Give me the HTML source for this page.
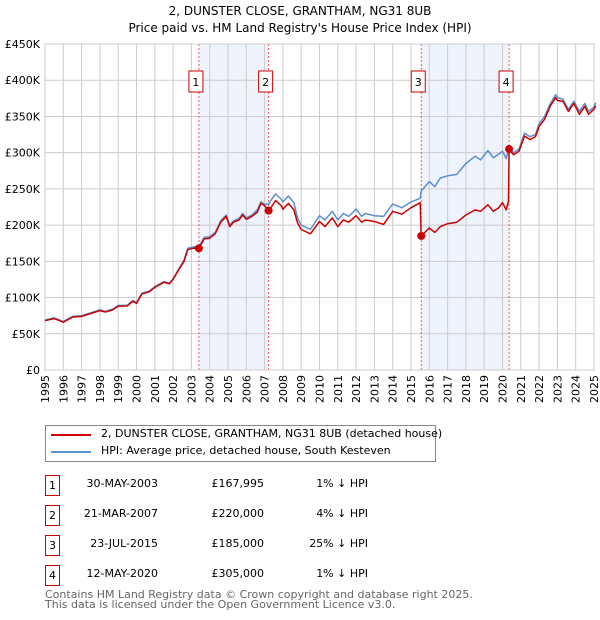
<!DOCTYPE html>
<html><head><meta charset="utf-8"><style>
body{margin:0;background:#fff;font-family:"DejaVu Sans","Liberation Sans",sans-serif;}
#wrap{position:relative;width:600px;height:620px;overflow:hidden;}
.t{position:absolute;font-size:11px;color:#000;white-space:nowrap;}
.box{position:absolute;width:13px;height:19px;border:1px solid #c00;font-size:11px;text-align:center;line-height:19px;}
</style></head><body><div id="wrap">
<div class="t" style="left:0;width:600px;text-align:center;top:4px;font-size:12px">2, DUNSTER CLOSE, GRANTHAM, NG31 8UB</div>
<div class="t" style="left:0;width:600px;text-align:center;top:21px;font-size:12px">Price paid vs. HM Land Registry's House Price Index (HPI)</div>
<svg id="chart" width="600" height="420" style="position:absolute;left:0;top:0"></svg>
<div style="position:absolute;left:45px;top:425px;width:389px;height:35px;border:1px solid #888;">
 <div><div style="position:absolute;left:5px;top:8px;width:40px;height:2px;background:#c00"></div><div class="t" style="left:55px;top:1px">2, DUNSTER CLOSE, GRANTHAM, NG31 8UB (detached house)</div></div>
 <div><div style="position:absolute;left:5px;top:25px;width:40px;height:2px;background:#5b8fd0"></div><div class="t" style="left:55px;top:18px">HPI: Average price, detached house, South Kesteven</div></div>
</div>
<div id="rows"></div>
<div class="t" style="left:45px;top:590px;color:#666;line-height:10px">Contains HM Land Registry data © Crown copyright and database right 2025.<br>This data is licensed under the Open Government Licence v3.0.</div>
</div>
<script>
const yearTicks=[1995,1996,1997,1998,1999,2000,2001,2002,2003,2004,2005,2006,2007,2008,2009,2010,2011,2012,2013,2014,2015,2016,2017,2018,2019,2020,2021,2022,2023,2024,2025];
const valueTicks=[0,50,100,150,200,250,300,350,400,450];
const valueLabels=["£0","£50K","£100K","£150K","£200K","£250K","£300K","£350K","£400K","£450K"];
const saleDates=[2003.41,2007.22,2015.56,2020.36];
const salePrices=[168,220,185,305];
const saleLabels=["1","2","3","4"];
const saleDateText=["30-MAY-2003","21-MAR-2007","23-JUL-2015","12-MAY-2020"];
const salePriceText=["£167,995","£220,000","£185,000","£305,000"];
const saleHpiText=["1% ↓ HPI","4% ↓ HPI","25% ↓ HPI","1% ↓ HPI"];
const propDates=[1995,1995.5,1996,1996.5,1997,1997.5,1998,1998.3,1998.7,1999,1999.5,1999.8,2000,2000.3,2000.7,2001,2001.5,2001.8,2002,2002.3,2002.6,2002.8,2003.1,2003.41,2003.7,2004,2004.3,2004.6,2004.9,2005.1,2005.3,2005.6,2005.8,2006,2006.3,2006.6,2006.8,2007,2007.22,2007.4,2007.6,2007.9,2008,2008.3,2008.6,2008.8,2009,2009.5,2010,2010.3,2010.7,2011,2011.3,2011.6,2012,2012.3,2012.5,2013,2013.5,2014,2014.5,2015,2015.5,2015.56,2016,2016.3,2016.6,2017,2017.5,2018,2018.5,2018.8,2019.2,2019.5,2019.8,2020,2020.2,2020.33,2020.36,2020.6,2020.9,2021.2,2021.5,2021.8,2022,2022.3,2022.6,2022.9,2023,2023.3,2023.6,2023.9,2024.2,2024.5,2024.7,2025,2025.1];
const propValues=[68,71,66,73,74,78,82,80,83,88,88.5,95,92,105,108,114,121,119,125,138,150,166,168,168,181,182,188,204,212,198,204,207,214,208,212,218,230,227,220,226,234,227,222,230,221,203,194,188,205,198,210,198,207,204,213,204,207,205,201,219,215,224,231,185,196,190,198,202,204,214,221,219,228,219,224,231,221,233,305,297,302,323,318,322,336,346,364,376,372,371,357,368,353,364,353,360,365];
const hpiDates=[1995,1995.5,1996,1996.5,1997,1997.5,1998,1998.3,1998.7,1999,1999.5,1999.8,2000,2000.3,2000.7,2001,2001.5,2001.8,2002,2002.3,2002.6,2002.8,2003.1,2003.41,2003.7,2004,2004.3,2004.6,2004.9,2005.1,2005.3,2005.6,2005.8,2006,2006.3,2006.6,2006.8,2007,2007.22,2007.4,2007.6,2007.9,2008,2008.3,2008.6,2008.8,2009,2009.5,2010,2010.3,2010.7,2011,2011.3,2011.6,2012,2012.3,2012.5,2013,2013.5,2014,2014.5,2015,2015.5,2015.56,2016,2016.3,2016.6,2017,2017.5,2018,2018.5,2018.8,2019.2,2019.5,2019.8,2020,2020.2,2020.36,2020.6,2020.9,2021.2,2021.5,2021.8,2022,2022.3,2022.6,2022.9,2023,2023.3,2023.6,2023.9,2024.2,2024.5,2024.7,2025,2025.1];
const hpiValues=[69,72,67,74,75,79,83,81,84,89,89.5,96,93,106,109,115,122,120,126,139,152,168,170,170,183,184,190,206,214,200,206,209,216,210,214,221,232,229,229,236,243,236,232,240,231,210,200,194,213,207,219,207,216,212,222,212,216,213,212,229,224,232,237,247,260,253,265,268,270,285,295,290,303,293,298,302,292,307,300,305,327,322,325,340,350,367,380,376,374,360,371,357,368,357,363,369];

const NS="http://www.w3.org/2000/svg";
const svg=document.getElementById('chart');
const X0=45,X1=594,Y0=370,Y1=44;
const xs=y=>X0+(y-1995)/30*(X1-X0);
const ys=v=>Y0-v/450*(Y0-Y1);
function mk(tag,attrs){const e=document.createElementNS(NS,tag);for(const k in attrs)e.setAttribute(k,attrs[k]);svg.appendChild(e);return e;}
for(let i=0;i<saleDates.length;i+=2){
 const r=mk('rect',{x:xs(saleDates[i]),y:Y1,width:xs(saleDates[i+1])-xs(saleDates[i]),height:Y0-Y1,fill:'#eef3fc'});
 
 
}
yearTicks.forEach(y=>{
 const l=mk('line',{x1:xs(y),x2:xs(y),y1:Y1,y2:Y0,stroke:'#ccc','stroke-width':1});
 
 
 const t=mk('text',{x:0,y:0,transform:`translate(${xs(y)+4},${Y0+5}) rotate(-90)`,'text-anchor':'end','font-size':'11','font-family':'DejaVu Sans,sans-serif'});
 t.textContent=y;
 
 
});
valueTicks.forEach((v,i)=>{
 const l=mk('line',{x1:X0,x2:X1,y1:ys(v),y2:ys(v),stroke:'#ccc','stroke-width':1});
 
 
 const t=mk('text',{x:X0-5,y:ys(v)+4,'text-anchor':'end','font-size':'11','font-family':'DejaVu Sans,sans-serif'});
 t.textContent=valueLabels[i];
 
 
});
saleDates.forEach((d,i)=>{
 const l=mk('line',{x1:xs(d),x2:xs(d),y1:Y1,y2:Y0,stroke:'#e55','stroke-width':1,'stroke-dasharray':'2,2'});
 
 
 const r=mk('rect',{x:xs(d)-10,y:71,width:14,height:21,fill:'#fff',stroke:'#c00'});
 
 
 const t=mk('text',{x:xs(d)-3,y:86,'text-anchor':'middle','font-size':'11','font-family':'DejaVu Sans,sans-serif'});
 t.textContent=saleLabels[i];
 
 
});
mk('rect',{x:X0,y:Y1,width:X1-X0,height:Y0-Y1,fill:'none',stroke:'#ccc'});
const pts=(ds,vs)=>ds.map((d,i)=>xs(d).toFixed(1)+','+ys(vs[i]).toFixed(1)).join(' ');
const hl=mk('polyline',{points:pts(hpiDates,hpiValues),fill:'none',stroke:'#5b8fd0','stroke-width':1.5,'stroke-linejoin':'round'});


const pl=mk('polyline',{points:pts(propDates,propValues),fill:'none',stroke:'#c00','stroke-width':1.5,'stroke-linejoin':'round'});


saleDates.forEach((d,i)=>{
 const c=mk('circle',{cx:xs(d),cy:ys(salePrices[i]),r:4,fill:'#c00'});
 
 
});
const rows=document.getElementById('rows');
saleLabels.forEach((lab,i)=>{
 const top=475+i*30;
 const row=document.createElement('div');
 
 
 row.innerHTML=`<div class="box" style="left:45px;top:${top}px">${lab}</div>
 <div class="t" style="left:80px;width:78px;text-align:right;top:${top+2}px">${saleDateText[i]}</div>
 <div class="t" style="left:200px;width:64px;text-align:right;top:${top+2}px">${salePriceText[i]}</div>
 <div class="t" style="left:300px;width:68px;text-align:right;top:${top+2}px">${saleHpiText[i]}</div>`;
 rows.appendChild(row);
});
</script></body></html>
